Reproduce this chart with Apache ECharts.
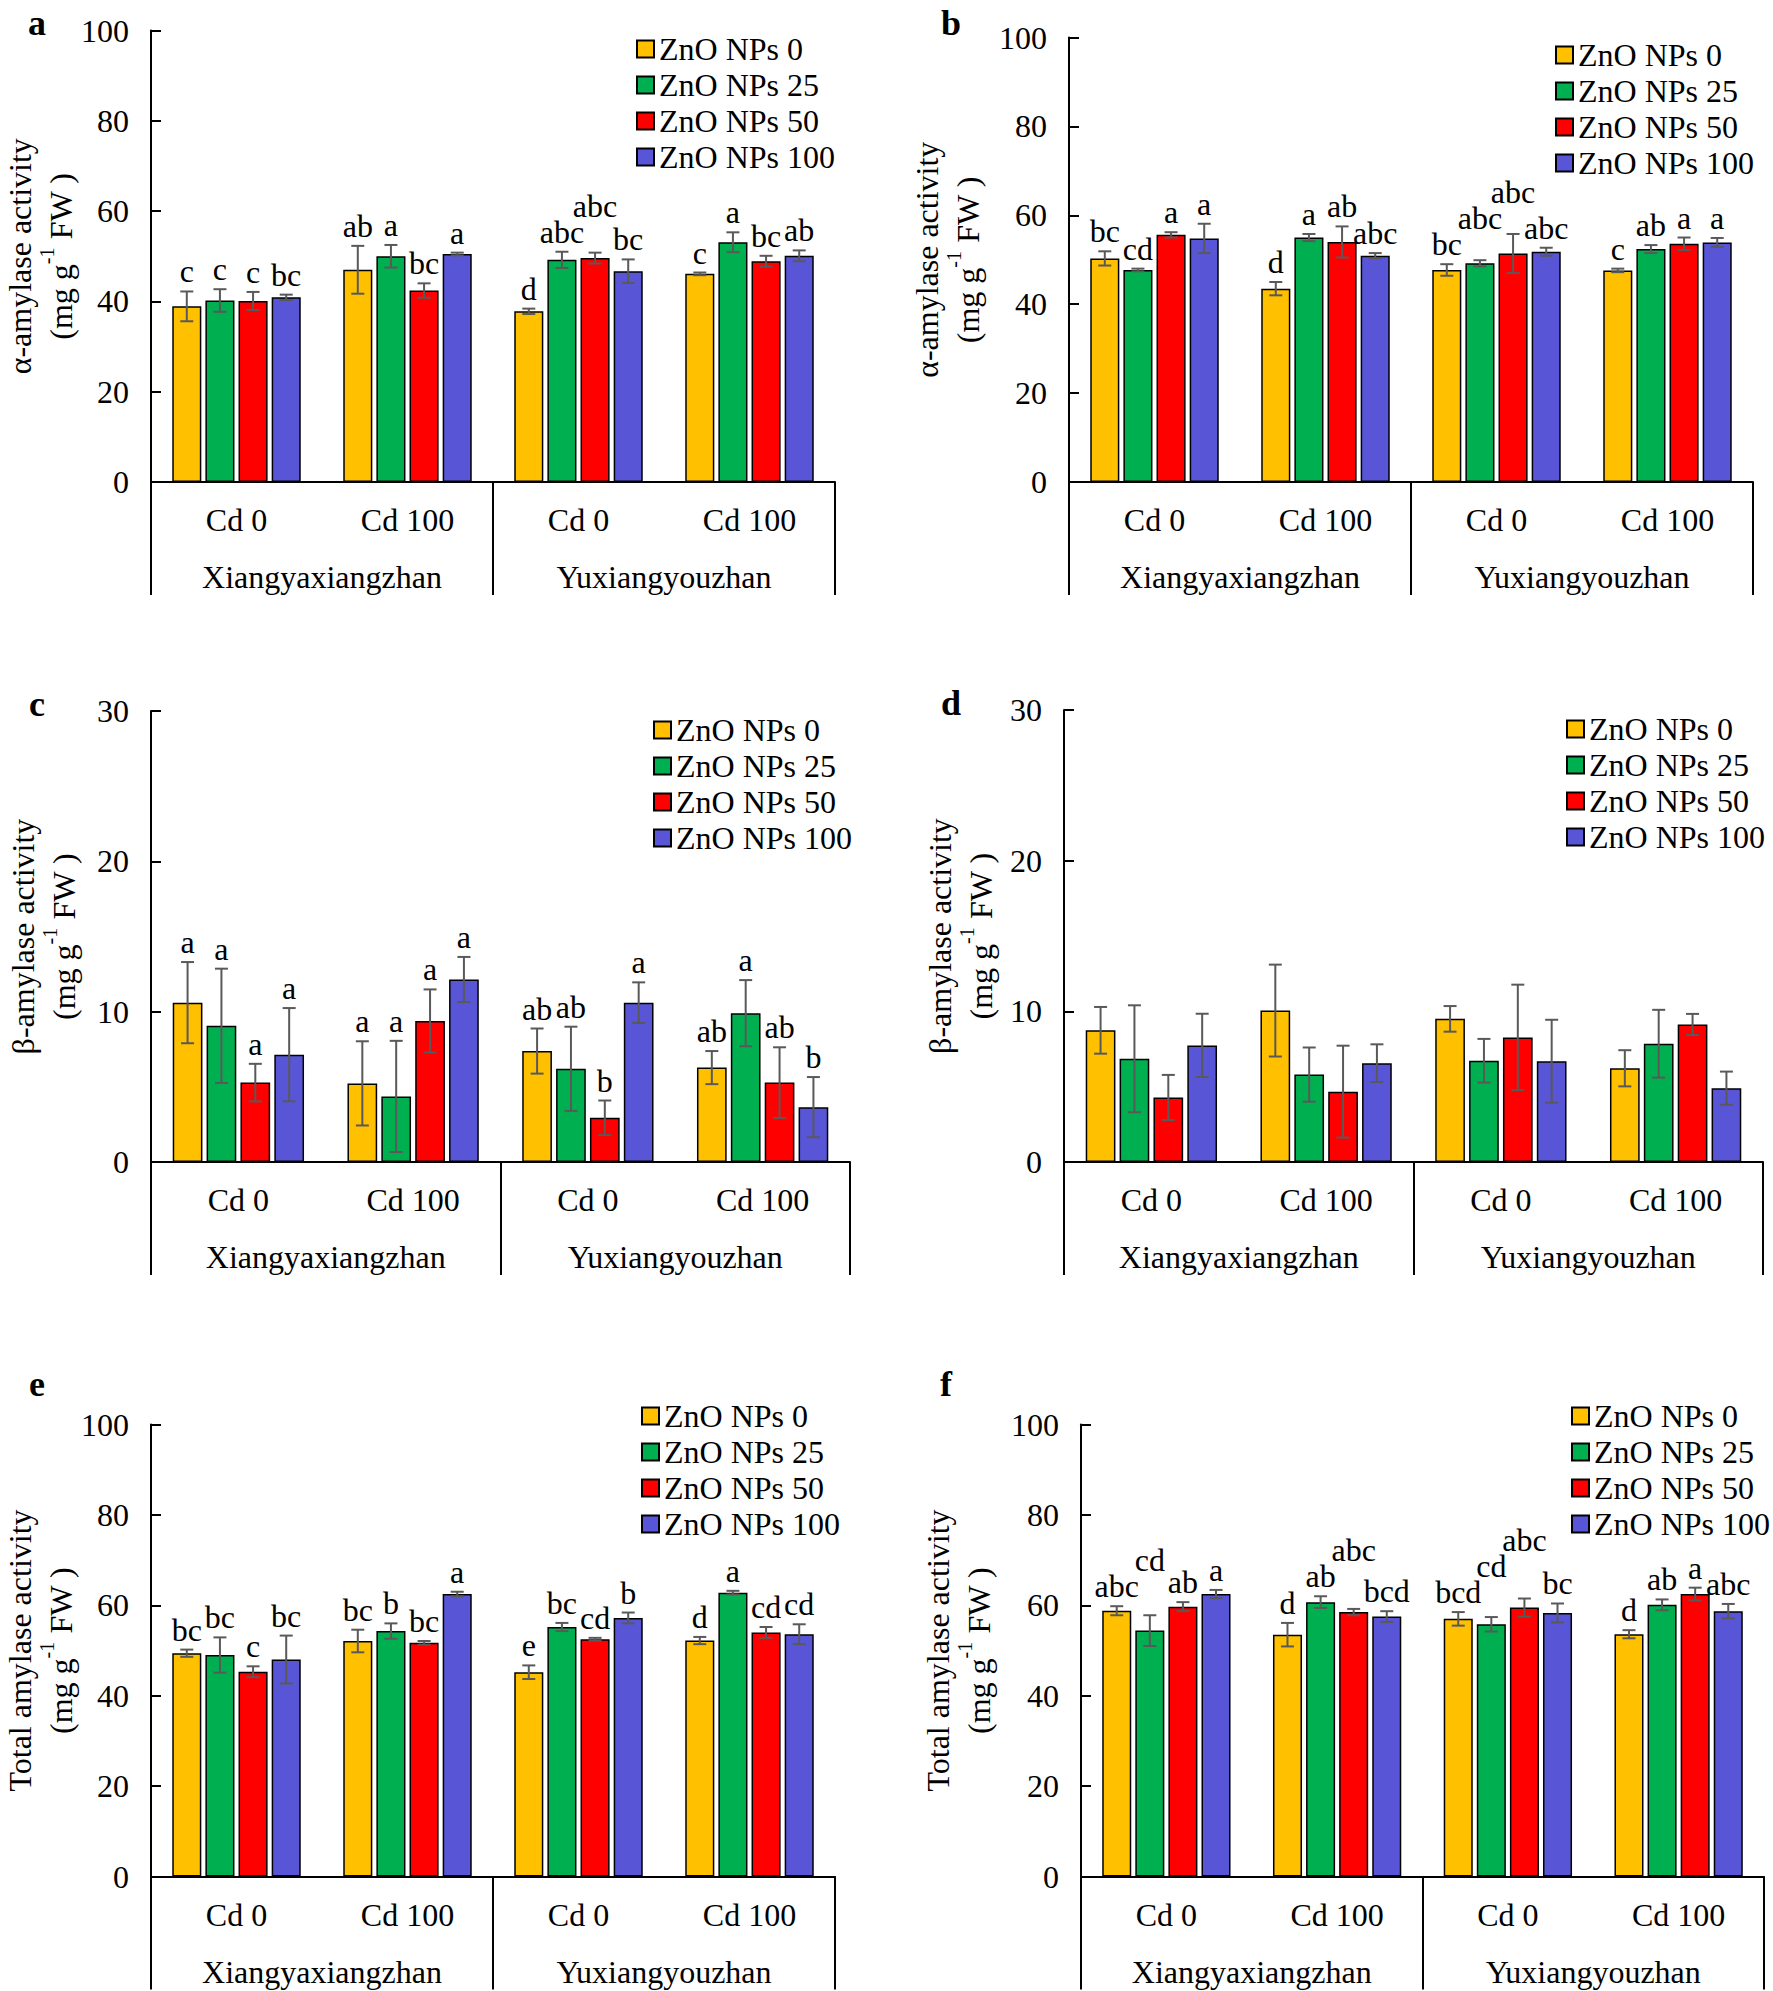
<!DOCTYPE html>
<html>
<head>
<meta charset="utf-8">
<script src="https://cdn.jsdelivr.net/npm/echarts@6/dist/echarts.min.js"></script>
<style>
html,body{margin:0;padding:0;background:#fff;}
#main{width:1773px;height:1991px;}
</style>
</head>
<body>
<div id="main"></div>
<script>
// ---------------- DATA ----------------
const groups = ['Cd 0', 'Cd 100', 'Cd 0', 'Cd 100'];
const cultivars = ['Xiangyaxiangzhan', 'Yuxiangyouzhan'];
const levels = ['ZnO NPs 0', 'ZnO NPs 25', 'ZnO NPs 50', 'ZnO NPs 100'];

// rows = ZnO level, columns = groups (Xiangya Cd0, Xiangya Cd100, Yuxiang Cd0, Yuxiang Cd100)
const aMean = [[38.9, 47.0, 37.8, 46.1], [40.2, 50.0, 49.2, 53.1], [40.1, 42.4, 49.6, 48.9], [40.9, 50.5, 46.7, 50.1]];
const aErr  = [[3.3, 5.3, 0.6, 0.3], [2.5, 2.5, 1.8, 2.2], [2.0, 1.6, 1.2, 1.2], [0.6, 0.3, 2.6, 1.2]];
const aSig  = [['c', 'ab', 'd', 'c'], ['c', 'a', 'abc', 'a'], ['c', 'bc', 'abc', 'bc'], ['bc', 'a', 'bc', 'ab']];

const bMean = [[50.3, 43.5, 47.7, 47.6], [47.7, 55.0, 49.2, 52.4], [55.6, 54.0, 51.4, 53.6], [54.8, 50.9, 51.8, 53.9]];
const bErr  = [[1.6, 1.5, 1.3, 0.4], [0.3, 0.8, 0.7, 0.9], [0.6, 3.5, 4.4, 1.4], [3.3, 0.6, 0.9, 1.0]];
const bSig  = [['bc', 'd', 'bc', 'c'], ['cd', 'a', 'abc', 'ab'], ['a', 'ab', 'abc', 'a'], ['a', 'abc', 'abc', 'a']];

const cMean = [[10.6, 5.23, 7.38, 6.28], [9.06, 4.36, 6.2, 9.9], [5.28, 9.38, 2.94, 5.28], [7.14, 12.14, 10.6, 3.65]];
const cErr  = [[2.7, 2.8, 1.5, 1.1], [3.8, 3.7, 2.8, 2.2], [1.25, 2.1, 1.15, 2.35], [3.1, 1.5, 1.35, 2.0]];
const cSig  = [['a', 'a', 'ab', 'ab'], ['a', 'a', 'ab', 'a'], ['a', 'a', 'b', 'ab'], ['a', 'a', 'a', 'b']];

const dMean = [[8.74, 10.05, 9.5, 6.22], [6.85, 5.8, 6.72, 7.85], [4.28, 4.67, 8.27, 9.13], [7.74, 6.56, 6.69, 4.9]];
const dErr  = [[1.55, 3.05, 0.85, 1.2], [3.55, 1.8, 1.45, 2.25], [1.5, 3.05, 3.5, 0.7], [2.1, 1.25, 2.75, 1.1]];
const dSig  = null;

const eMean = [[49.4, 52.1, 45.2, 52.2], [49.0, 54.3, 55.2, 62.8], [45.3, 51.7, 52.5, 54.0], [48.0, 62.5, 57.2, 53.6]];
const eErr  = [[0.8, 2.5, 1.5, 0.8], [3.9, 1.7, 0.9, 0.4], [1.2, 0.4, 0.3, 1.2], [5.3, 0.5, 1.2, 2.2]];
const eSig  = [['bc', 'bc', 'e', 'd'], ['bc', 'b', 'bc', 'a'], ['c', 'bc', 'cd', 'cd'], ['bc', 'a', 'b', 'cd']];

const fMean = [[58.8, 53.5, 57.0, 53.6], [54.4, 60.7, 55.8, 60.1], [59.7, 58.5, 59.5, 62.5], [62.5, 57.5, 58.3, 58.7]];
const fErr  = [[1.0, 2.6, 1.5, 0.9], [3.4, 1.3, 1.6, 1.2], [1.0, 0.7, 2.0, 1.4], [0.9, 1.2, 2.1, 1.6]];
const fSig  = [['abc', 'd', 'bcd', 'd'], ['cd', 'ab', 'cd', 'ab'], ['ab', 'abc', 'abc', 'a'], ['a', 'bcd', 'bc', 'abc']];

const alphaTitle = 'α-amylase activity';
const betaTitle = 'β-amylase activity';
const totalTitle = 'Total amylase activity';

// ---------------- LAYOUT / STYLE ----------------
const colors = ['#FFC000', '#00B050', '#FF0000', '#5856D6'];
const FONT = '"Liberation Serif", "Times New Roman", serif';
const BW = 0.17, GAP = 0.14;
const LIFT = 26;

const panels = [
  {tag: 'a', tagX: 37, tagY: 23, mean: aMean, err: aErr, sig: aSig, max: 100, interval: 20, title: alphaTitle,
   grid: {left: 151, top: 30.5, width: 684, height: 451.5}, legend: {left: 636, top: 33}, nameGap: 64},
  {tag: 'b', tagX: 951, tagY: 23, mean: bMean, err: bErr, sig: bSig, max: 100, interval: 20, title: alphaTitle,
   grid: {left: 1069, top: 37.5, width: 684, height: 444.5}, legend: {left: 1555, top: 39}, nameGap: 77.5},
  {tag: 'c', tagX: 37, tagY: 704, mean: cMean, err: cErr, sig: cSig, max: 30, interval: 10, title: betaTitle,
   grid: {left: 151, top: 711, width: 699, height: 451}, legend: {left: 653, top: 714}, nameGap: 63.5},
  {tag: 'd', tagX: 951, tagY: 703, mean: dMean, err: dErr, sig: dSig, max: 30, interval: 10, title: betaTitle,
   grid: {left: 1064, top: 710, width: 699, height: 452}, legend: {left: 1566, top: 713}, nameGap: 59.5},
  {tag: 'e', tagX: 37, tagY: 1384, mean: eMean, err: eErr, sig: eSig, max: 100, interval: 20, title: totalTitle,
   grid: {left: 151, top: 1424.5, width: 684, height: 452}, legend: {left: 641, top: 1400}, nameGap: 64.5},
  {tag: 'f', tagX: 946, tagY: 1384, mean: fMean, err: fErr, sig: fSig, max: 100, interval: 20, title: totalTitle,
   grid: {left: 1081, top: 1424.5, width: 683, height: 452}, legend: {left: 1571, top: 1400}, nameGap: 78.5}
];

const chart = echarts.init(document.getElementById('main'), null, {renderer: 'svg', width: 1773, height: 1991});

const grid = [], xAxis = [], yAxis = [], series = [], legend = [], graphic = [];

function textW(s) { return s ? s.length * 15 : 0; }

panels.forEach((p, k) => {
  grid.push(Object.assign({containLabel: false, outerBoundsMode: 'none'}, p.grid));
  xAxis.push({
    type: 'category', gridIndex: k, data: groups, position: 'bottom',
    axisLine: {show: true, onZero: false, lineStyle: {color: '#000', width: 2}},
    axisTick: {show: false},
    axisLabel: {color: '#000', fontSize: 32, fontFamily: FONT, margin: 22, interval: 0},
    splitLine: {show: false}
  });
  xAxis.push({
    type: 'category', gridIndex: k, data: cultivars, position: 'bottom',
    axisLine: {show: false},
    axisTick: {show: true, length: 113, lineStyle: {color: '#000', width: 2}},
    axisLabel: {color: '#000', fontSize: 32, fontFamily: FONT, margin: 79, interval: 0},
    splitLine: {show: false}
  });
  yAxis.push({
    type: 'value', gridIndex: k, min: 0, max: p.max, interval: p.interval,
    axisLine: {show: true, lineStyle: {color: '#000', width: 2}},
    axisTick: {show: true, inside: true, length: 10, lineStyle: {color: '#000', width: 2}},
    axisLabel: {color: '#000', fontSize: 32, fontFamily: FONT, margin: 22},
    splitLine: {show: false},
    name: '{t|' + p.title + '}\n{u|(mg g}{s|-1}{u| FW )}',
    nameLocation: 'middle', nameRotate: 90, nameGap: p.nameGap,
    nameTextStyle: {
      color: '#000', fontSize: 32, fontFamily: FONT, align: 'center',
      rich: {
        t: {color: '#000', fontSize: 32, fontFamily: FONT, lineHeight: 34},
        u: {color: '#000', fontSize: 32, fontFamily: FONT, lineHeight: 48},
        s: {color: '#000', fontSize: 20, fontFamily: FONT, lineHeight: 32, verticalAlign: 'top'}
      }
    }
  });
  legend.push({
    data: levels, orient: 'vertical', left: p.legend.left, top: p.legend.top, padding: 0,
    itemWidth: 17, itemHeight: 17, itemGap: 4, icon: 'rect', selectedMode: false,
    textStyle: {color: '#000', fontSize: 32, fontFamily: FONT, lineHeight: 32}
  });
  graphic.push({
    type: 'text', x: p.tagX, y: p.tagY,
    style: {text: p.tag, fill: '#000', font: 'bold 36px ' + FONT, align: 'center', verticalAlign: 'middle'}
  });

  levels.forEach((name, i) => {
    series.push({
      name: name, type: 'bar', xAxisIndex: 2 * k, yAxisIndex: k,
      data: p.mean[i], barWidth: (BW * 100) + '%', barGap: (GAP * 100) + '%',
      itemStyle: {color: colors[i], borderColor: '#000', borderWidth: 1.5},
      emphasis: {disabled: true}, animation: false
    });
  });

  // error bars + significance letters
  const items = [];
  for (let c = 0; c < groups.length; c++) for (let i = 0; i < levels.length; i++) items.push([c, i]);
  series.push({
    type: 'custom', xAxisIndex: 2 * k, yAxisIndex: k, data: items, z: 10, animation: false, silent: true,
    renderItem: function (params, api) {
      const c = api.value(0), i = api.value(1);
      const band = api.size([1, 0])[0];
      const bw = band * BW, pitch = bw * (1 + GAP);
      const cx = api.coord([c, 0])[0] + (i - 1.5) * pitch;
      const m = p.mean[i][c], e = p.err[i][c];
      const yTop = api.coord([c, m + e])[1];
      const yBot = api.coord([c, m - e])[1];
      const cap = 6.5;
      const ls = {stroke: '#595959', lineWidth: 2};
      const children = [
        {type: 'line', shape: {x1: cx, y1: yTop, x2: cx, y2: yBot}, style: ls},
        {type: 'line', shape: {x1: cx - cap, y1: yTop, x2: cx + cap, y2: yTop}, style: ls},
        {type: 'line', shape: {x1: cx - cap, y1: yBot, x2: cx + cap, y2: yBot}, style: ls}
      ];
      if (p.sig) {
        // label heights with simple overlap avoidance among neighbours
        const ys = [];
        for (let j = 0; j <= i; j++) {
          let y = api.coord([c, p.mean[j][c] + p.err[j][c]])[1] - 4;
          if (j > 0) {
            const ov = (textW(p.sig[j][c]) + textW(p.sig[j - 1][c])) / 2 > pitch + 1;
            if (ov && Math.abs(y - ys[j - 1]) < LIFT) y = ys[j - 1] - LIFT;
          }
          ys.push(y);
        }
        children.push({
          type: 'text',
          style: {text: p.sig[i][c], x: cx, y: ys[i], fill: '#000', font: '32px ' + FONT,
                  align: 'center', verticalAlign: 'bottom'}
        });
      }
      return {type: 'group', children: children};
    }
  });
});

chart.setOption({
  backgroundColor: '#fff',
  animation: false,
  grid: grid, xAxis: xAxis, yAxis: yAxis, legend: legend, series: series, graphic: graphic
});
</script>
</body>
</html>
